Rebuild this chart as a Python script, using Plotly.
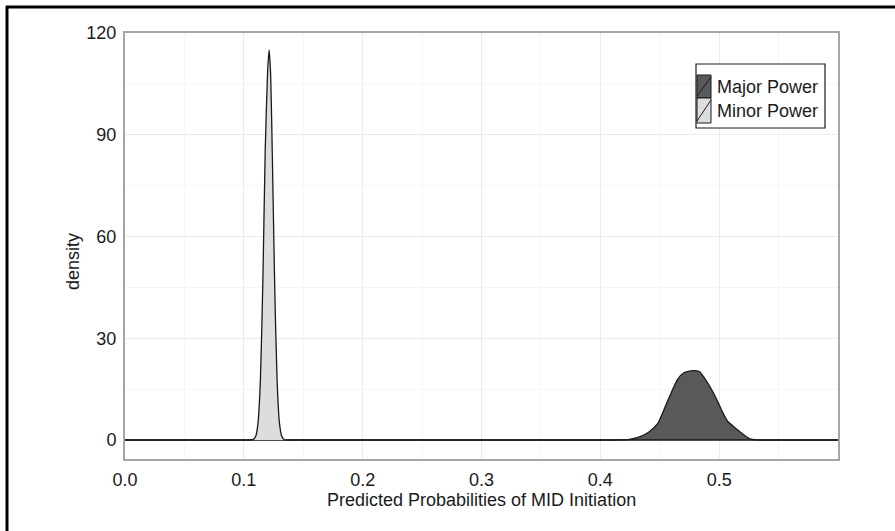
import plotly.graph_objects as go

# ---- data ----
major_x = [0.0, 0.1, 0.2, 0.3, 0.38, 0.40, 0.410, 0.418, 0.4244, 0.4330, 0.4412, 0.4482,
           0.4566, 0.4650, 0.4706, 0.4762, 0.4832, 0.4874, 0.4958, 0.5014, 0.5070,
           0.5154, 0.5220, 0.5266, 0.5310, 0.5360, 0.545, 0.56, 0.6]
major_y = [0.0, 0.0, 0.0, 0.0, 0.0, 0.0, 0.0, 0.05, 0.2, 0.9, 2.45, 4.8,
           11.5, 17.9, 19.9, 20.4, 20.2, 18.4, 13.5, 9.3, 5.6,
           3.0, 1.2, 0.25, 0.03, 0.0, 0.0, 0.0, 0.0]

minor_x = [0.0, 0.05, 0.09, 0.100, 0.104, 0.108, 0.110, 0.112, 0.114, 0.116, 0.118,
           0.1200, 0.1213, 0.1226, 0.1240, 0.1260, 0.1280, 0.1300, 0.1320, 0.1345,
           0.138, 0.145, 0.2, 0.3, 0.4, 0.5, 0.6]
minor_y = [0.0, 0.0, 0.0, 0.0, 0.0, 0.2, 1.1, 5.2, 18.4, 46.7, 85.4,
           108.5, 115.0, 107.3, 83.5, 44.9, 17.4, 4.9, 1.0, 0.0,
           0.0, 0.0, 0.0, 0.0, 0.0, 0.0, 0.0]

x_ticks = [0.0, 0.1, 0.2, 0.3, 0.4, 0.5]
x_tick_labels = ["0.0", "0.1", "0.2", "0.3", "0.4", "0.5"]
y_ticks = [0, 30, 60, 90, 120]
series_names = ["Major Power", "Minor Power"]
fill_colors = ["#58595b", "#dcdddf"]
x_title = "Predicted Probabilities of MID Initiation"
y_title = "density"

FONT = "Liberation Sans, Arial, sans-serif"
TXT = "#1a1a1a"

# plot area in pixels
W, H = 895, 531
L, R, T, B = 125, 838, 33, 459
PW, PH = R - L, B - T


def px(xp):
    return (xp - L) / PW


def py(yp):
    return 1 - (yp - T) / PH


fig = go.Figure()
for xs, ys, name, col in [(major_x, major_y, series_names[0], fill_colors[0]),
                          (minor_x, minor_y, series_names[1], fill_colors[1])]:
    fig.add_trace(go.Scatter(
        x=xs, y=ys, name=name, mode="lines", fill="tozeroy",
        fillcolor=col, line=dict(color=TXT, width=1.3, shape="spline", smoothing=0.6),
        showlegend=False, hoverinfo="skip"))

shapes = []
# outer black frame (top and left visible)
shapes.append(dict(type="line", xref="paper", yref="paper", x0=px(6), x1=px(W + 5),
                   y0=py(7), y1=py(7), line=dict(color="black", width=3)))
shapes.append(dict(type="line", xref="paper", yref="paper", x0=px(7), x1=px(7),
                   y0=py(6), y1=py(H + 5), line=dict(color="black", width=3)))

# custom legend
lx0, lx1, ly0, ly1 = 696, 825, 64, 128
shapes.append(dict(type="rect", xref="paper", yref="paper", x0=px(lx0), x1=px(lx1),
                   y0=py(ly0), y1=py(ly1), line=dict(color=TXT, width=1.2),
                   fillcolor="white", layer="above"))
rows = [(75, 98), (98, 123)]
annotations = []
for (r0, r1), name, col in zip(rows, series_names, fill_colors):
    shapes.append(dict(type="rect", xref="paper", yref="paper", x0=px(697), x1=px(711),
                       y0=py(r0), y1=py(r1), line=dict(color=TXT, width=1),
                       fillcolor=col, layer="above"))
    shapes.append(dict(type="line", xref="paper", yref="paper", x0=px(697), x1=px(711),
                       y0=py(r1 - 2), y1=py(r0 + 2), line=dict(color=TXT, width=1),
                       layer="above"))
    annotations.append(dict(xref="paper", yref="paper", x=px(715), y=py((r0 + r1) / 2),
                            text=name, showarrow=False, xanchor="left", yanchor="middle",
                            font=dict(family=FONT, size=18, color=TXT)))

annotations.append(dict(xref="paper", yref="paper", x=px(481), y=py(500), text=x_title,
                        showarrow=False, xanchor="center", yanchor="middle",
                        font=dict(family=FONT, size=18, color=TXT)))
annotations.append(dict(xref="paper", yref="paper", x=px(73), y=py(262), text=y_title,
                        showarrow=False, xanchor="center", yanchor="middle", textangle=-90,
                        font=dict(family=FONT, size=18, color=TXT)))

fig.update_layout(
    width=W, height=H,
    margin=dict(l=L, r=W - R, t=T, b=H - B, autoexpand=False),
    paper_bgcolor="white", plot_bgcolor="white",
    font=dict(family=FONT, size=18, color=TXT),
    shapes=shapes, annotations=annotations,
    showlegend=False,
)
fig.update_xaxes(
    range=[0, 0.6], tickvals=x_ticks, ticktext=x_tick_labels,
    showgrid=True, gridcolor="#ebebeb", gridwidth=1.2,
    minor=dict(dtick=0.05, showgrid=True, gridcolor="#f6f6f6", gridwidth=1),
    showline=True, linecolor="#a6a6a6", linewidth=2, mirror=True,
    zeroline=False, ticks="", ticklabelstandoff=3,
    tickfont=dict(family=FONT, size=18, color=TXT),
    automargin=False,
)
fig.update_yaxes(
    range=[-5.6, 120], tickvals=y_ticks,
    showgrid=True, gridcolor="#ebebeb", gridwidth=1.2,
    minor=dict(dtick=15, showgrid=True, gridcolor="#f6f6f6", gridwidth=1),
    showline=True, linecolor="#a6a6a6", linewidth=2, mirror=True,
    zeroline=False, ticks="", ticklabelstandoff=3,
    tickfont=dict(family=FONT, size=18, color=TXT),
    automargin=False,
)

fig.write_html("out.html", config={"displayModeBar": False},
               post_script="document.body.style.margin='0px';")
